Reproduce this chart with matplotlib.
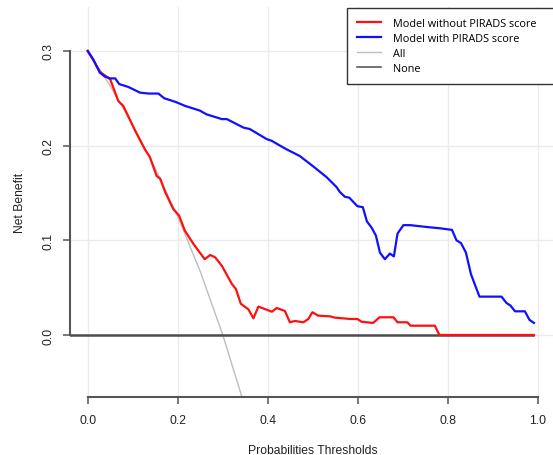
import matplotlib
matplotlib.use("Agg")
import matplotlib.pyplot as plt

# decision curve values
thr_blue = [0, 0.0125, 0.027, 0.038, 0.05, 0.061, 0.07, 0.09, 0.116, 0.135, 0.157, 0.170,
            0.196, 0.216, 0.249, 0.264, 0.298, 0.309, 0.346, 0.360, 0.397, 0.409, 0.427,
            0.442, 0.471, 0.501, 0.531, 0.553, 0.560, 0.571, 0.581, 0.599, 0.611, 0.620,
            0.631, 0.640, 0.649, 0.660, 0.671, 0.680, 0.688, 0.701, 0.716, 0.760, 0.782,
            0.809, 0.819, 0.829, 0.840, 0.851, 0.870, 0.919, 0.930, 0.939, 0.949, 0.971,
            0.981, 0.991]
nb_blue = [0.300, 0.291, 0.277, 0.273, 0.271, 0.271, 0.265, 0.262, 0.256, 0.255, 0.255, 0.250,
           0.246, 0.242, 0.237, 0.233, 0.228, 0.228, 0.219, 0.2175, 0.207, 0.205, 0.200,
           0.196, 0.189, 0.178, 0.1665, 0.156, 0.151, 0.146, 0.145, 0.136, 0.135, 0.120,
           0.113, 0.105, 0.087, 0.080, 0.086, 0.083, 0.107, 0.116, 0.116, 0.1137, 0.1127,
           0.111, 0.100, 0.097, 0.087, 0.0644, 0.0405, 0.0405, 0.0338, 0.031, 0.025, 0.025,
           0.016, 0.0127]

thr_red = [0, 0.0125, 0.027, 0.05, 0.068, 0.079, 0.105, 0.127, 0.138, 0.153, 0.161, 0.172,
           0.190, 0.203, 0.216, 0.235, 0.249, 0.260, 0.272, 0.283, 0.298, 0.320, 0.329,
           0.340, 0.357, 0.368, 0.379, 0.409, 0.420, 0.438, 0.449, 0.460, 0.479, 0.490,
           0.499, 0.512, 0.538, 0.549, 0.583, 0.599, 0.608, 0.634, 0.648, 0.679, 0.688,
           0.710, 0.717, 0.771, 0.781, 0.991]
nb_red = [0.300, 0.290, 0.278, 0.270, 0.247, 0.242, 0.216, 0.196, 0.188, 0.168, 0.165, 0.151,
          0.133, 0.126, 0.110, 0.096, 0.087, 0.080, 0.0845, 0.082, 0.073, 0.054, 0.0486,
          0.033, 0.027, 0.0176, 0.030, 0.0246, 0.0285, 0.0253, 0.0134, 0.0148, 0.0134, 0.0169,
          0.024, 0.0204, 0.0197, 0.0183, 0.0169, 0.0169, 0.014, 0.0127, 0.0187, 0.0187, 0.0134,
          0.0134, 0.0098, 0.0098, 0.0, 0.0]

thr_all = [0, 0.05, 0.10, 0.15, 0.20, 0.25, 0.30, 0.35]
nb_all = [0.300, 0.263, 0.222, 0.176, 0.125, 0.067, 0.0, -0.077]

thr_none = [-0.04, 0.99]
nb_none = [0, 0]

labels = ["Model without PIRADS score", "Model with PIRADS score", "All", "None"]
xticks = [0.0, 0.2, 0.4, 0.6, 0.8, 1.0]
yticks = [0.0, 0.1, 0.2, 0.3]

W, H = 553, 456
fig = plt.figure(figsize=(W / 100, H / 100), dpi=100)
ax = fig.add_axes([69.7 / W, (H - 398) / H, 486.3 / W, 390 / H])

ax.grid(True, color="#ebebeb", lw=1.0)
ax.set_axisbelow(True)

ax.plot(thr_all, nb_all, color="#bdbdbd", lw=1.0, label=labels[2], zorder=2)
ax.plot(thr_none, nb_none, color="#4d4d4d", lw=1.8, label=labels[3], zorder=2)
ax.plot(thr_red, nb_red, color="#ff1010", lw=1.6, label=labels[0], zorder=3)
ax.plot(thr_blue, nb_blue, color="#1010ff", lw=1.6, label=labels[1], zorder=3)

ax.set_xlim(-0.04, 1.04)
ax.set_ylim(-0.0655, 0.3464)
ax.set_xticks(xticks)
ax.set_yticks(yticks)
ax.set_xticklabels(["%.1f" % v for v in xticks], fontfamily="Liberation Sans", fontsize=8.7, color="#222222")
ax.set_yticklabels(["%.1f" % v for v in yticks], fontfamily="Liberation Sans", fontsize=8.7,
                   color="#222222", rotation=90, va="center")

for s in ["top", "right"]:
    ax.spines[s].set_visible(False)
ax.spines["left"].set_bounds(0, 0.3)
ax.spines["bottom"].set_bounds(0, 1)
for s in ["left", "bottom"]:
    ax.spines[s].set_color("#555555")
    ax.spines[s].set_linewidth(1.5)
ax.tick_params(axis="both", length=5, width=1.1, color="#555555")
ax.tick_params(axis="x", pad=7)
ax.tick_params(axis="y", pad=6)

ax.set_xlabel("Probabilities Thresholds", fontfamily="Liberation Sans", fontsize=8.7,
              color="#222222", labelpad=13.5)
ax.set_ylabel("Net Benefit", fontfamily="Liberation Sans", fontsize=8.7,
              color="#222222", labelpad=11.5)

h, l = ax.get_legend_handles_labels()
order = [l.index(t) for t in labels]
leg = ax.legend([h[i] for i in order], [l[i] for i in order], loc="upper left",
                bbox_to_anchor=(0.570, 0, 0.430, 0.9975), mode="expand",
                borderaxespad=0, fancybox=False,
                prop={"family": "Open Sans", "size": 7.8}, handlelength=2.2,
                handletextpad=1.1, labelspacing=0.36, borderpad=0.95)
leg.get_frame().set_edgecolor("#333333")
leg.get_frame().set_linewidth(1.0)
leg.get_frame().set_alpha(1)
# thinner None swatch in the legend, as in the reference
leg.get_lines()[3].set_linewidth(1.1)

fig.savefig("out.png", dpi=100)
